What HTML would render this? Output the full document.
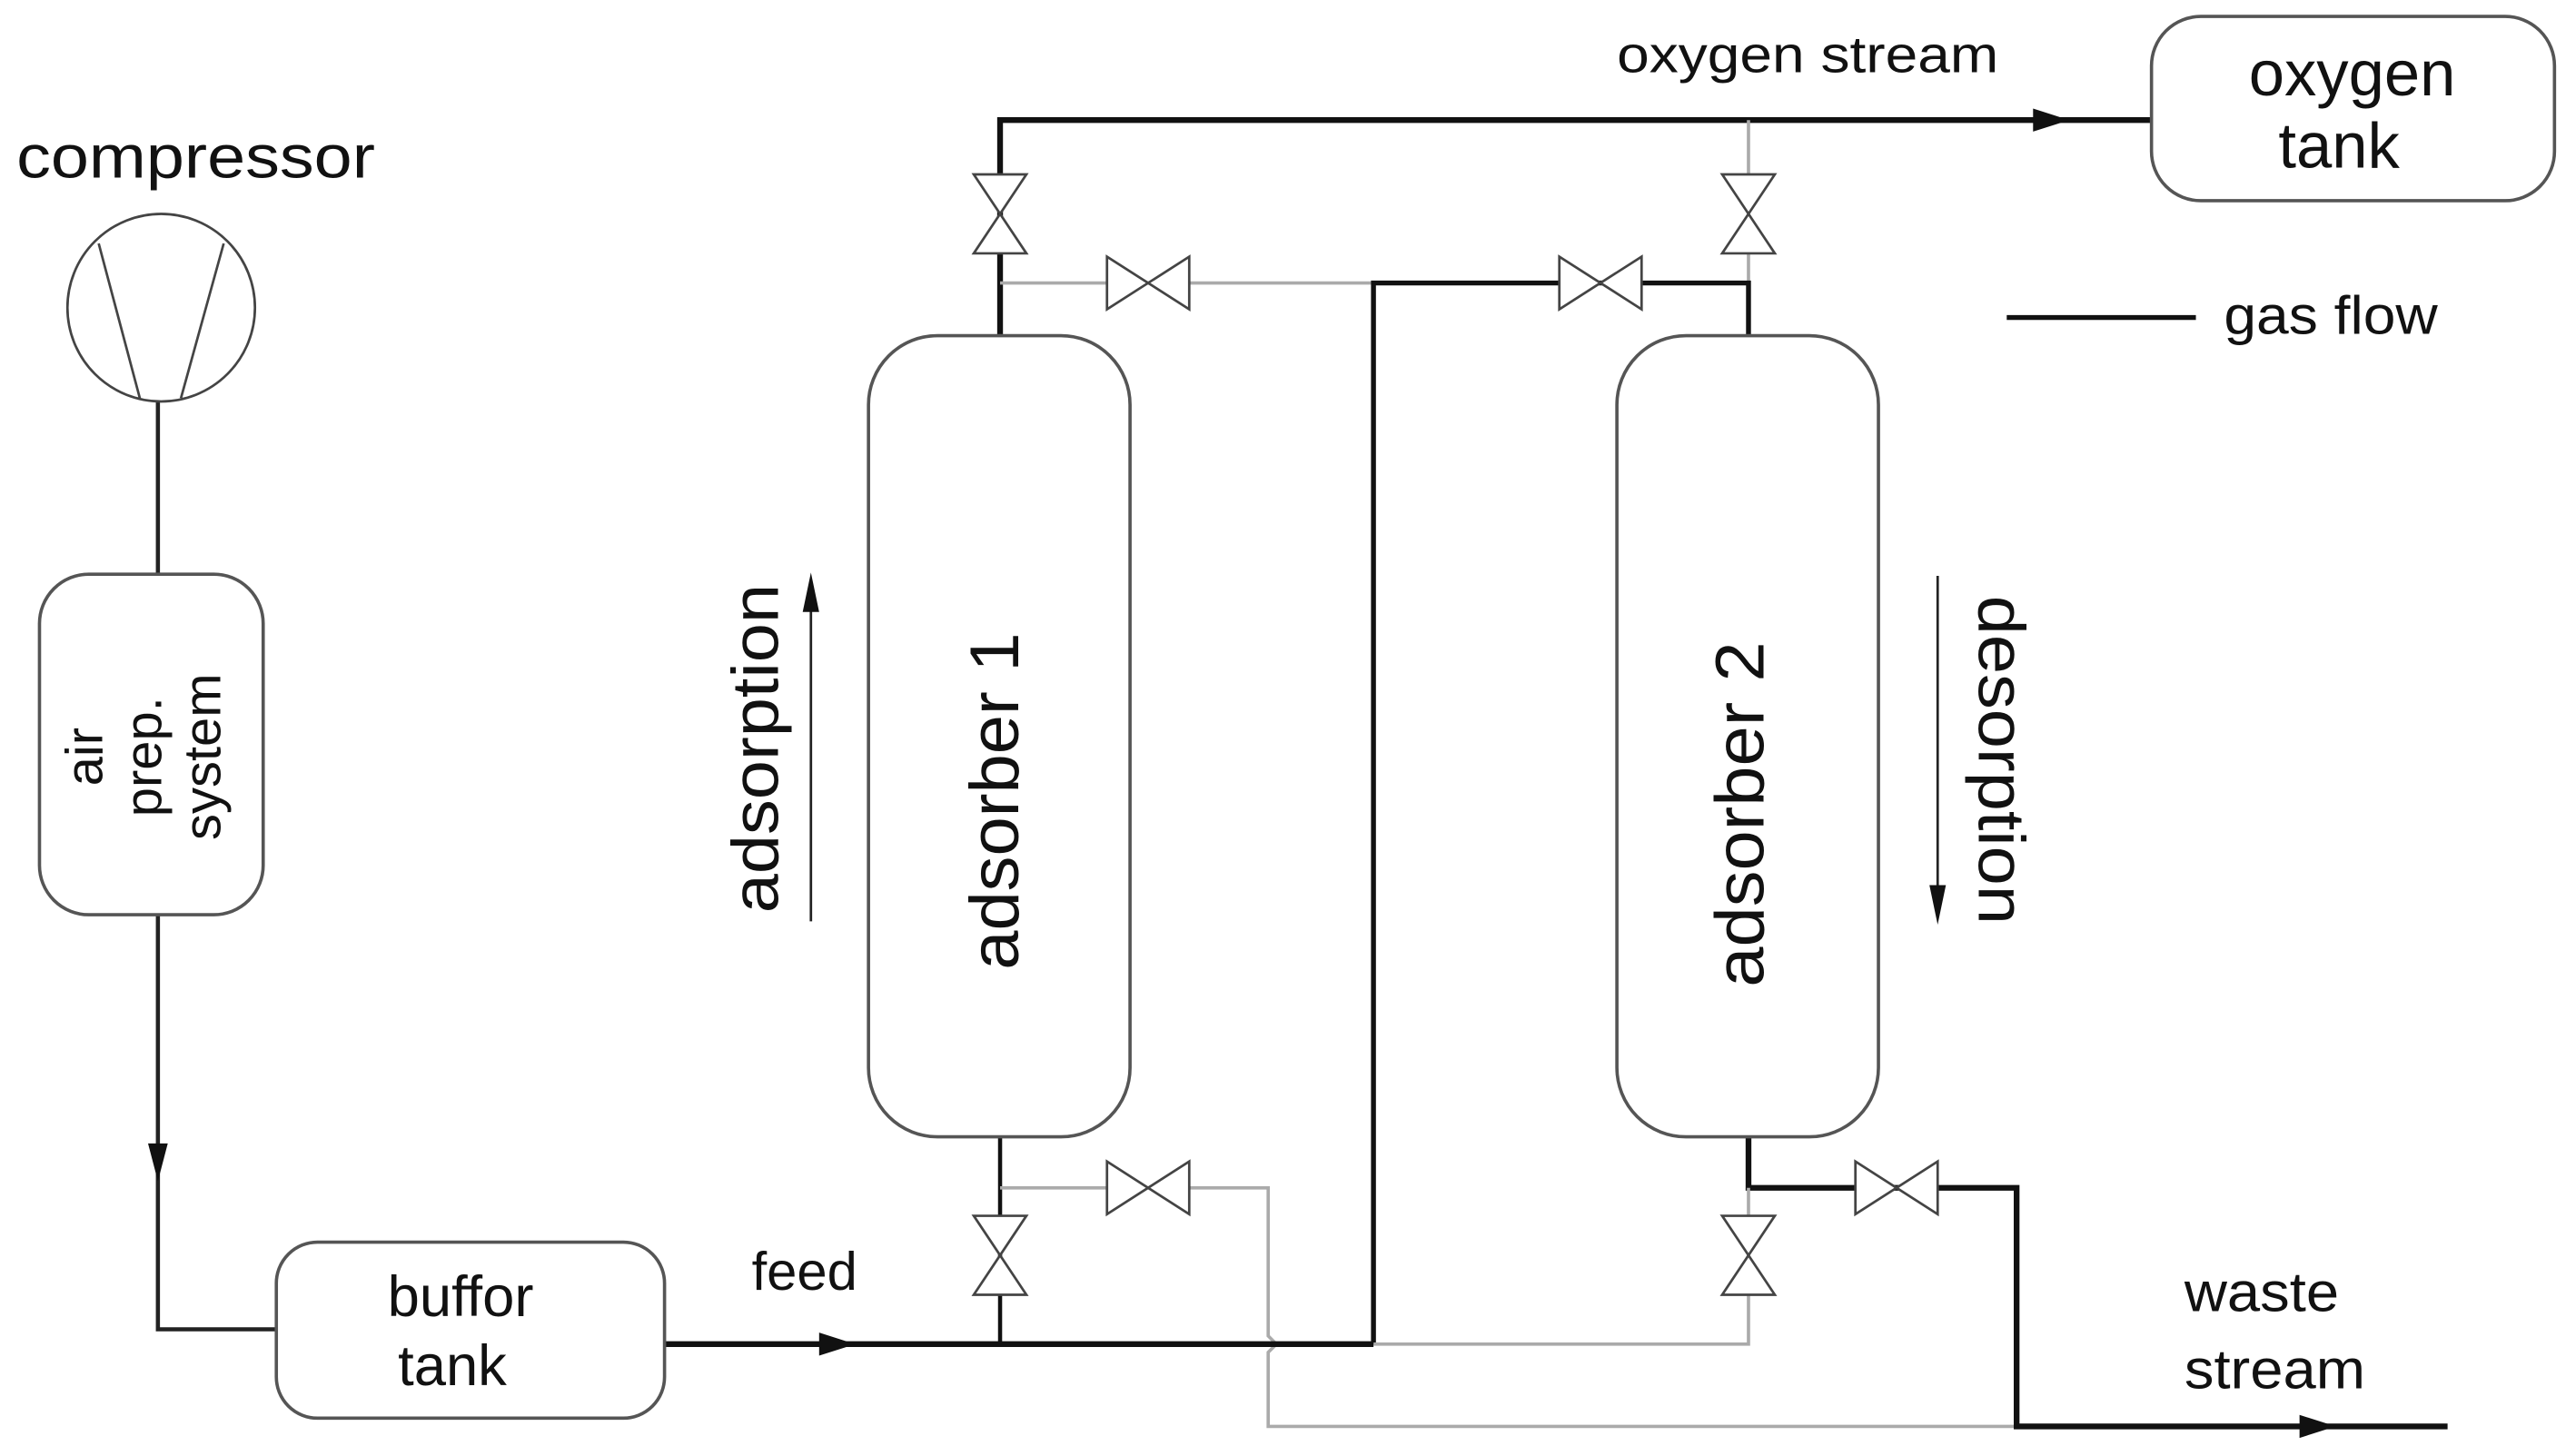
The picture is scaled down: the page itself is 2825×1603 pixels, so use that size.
<!DOCTYPE html>
<html><head><meta charset="utf-8"><style>
html,body{margin:0;padding:0;background:#fff;}
svg{display:block;}
text{font-family:"Liberation Sans",sans-serif;fill:#111;}
</style></head><body>
<svg width="2825" height="1603" viewBox="0 0 1560 885" preserveAspectRatio="none" xmlns="http://www.w3.org/2000/svg">
<defs>
<g id="hv"><polygon points="-25,-16 -25,16 25,-16 25,16" fill="#fff" stroke="#444" stroke-width="1.5"/></g>
<g id="vv"><polygon points="-16,-24 16,-24 -16,24 16,24" fill="#fff" stroke="#444" stroke-width="1.5"/></g>
</defs>
<g fill="none" stroke-linecap="butt">
<polyline points="608,205 608,73 1308,73" stroke="#111" stroke-width="3.5"/>
<polygon points="1236,66 1258,73 1236,80" fill="#111"/>
<line x1="608" y1="172" x2="835" y2="172" stroke="#aaa" stroke-width="2"/>
<line x1="1063" y1="73" x2="1063" y2="172" stroke="#aaa" stroke-width="2"/>
<polyline points="835,817 835,172 1063,172 1063,205" stroke="#111" stroke-width="3"/>
<line x1="608" y1="691" x2="608" y2="817" stroke="#111" stroke-width="2.5"/>
<polyline points="608,722 771,722 771,812 776,817 771,822 771,867 1226,867" stroke="#aaa" stroke-width="2"/>
<polyline points="1063,691 1063,722 1226,722 1226,867 1488,867" stroke="#111" stroke-width="3.5"/>
<polygon points="1398,860 1420,867 1398,874" fill="#111"/>
<polyline points="835,817 1063,817 1063,722" stroke="#aaa" stroke-width="2"/>
<line x1="404" y1="817" x2="835" y2="817" stroke="#111" stroke-width="3.5"/>
<polygon points="498,810 520,817 498,824" fill="#111"/>
<line x1="96" y1="244" x2="96" y2="350" stroke="#222" stroke-width="2.5"/>
<polyline points="96,556 96,808 168,808" stroke="#222" stroke-width="2.5"/>
<polygon points="90,695 96,718 102,695" fill="#111"/>
<line x1="1220" y1="193" x2="1335" y2="193" stroke="#111" stroke-width="3"/>
<line x1="493" y1="560" x2="493" y2="365" stroke="#222" stroke-width="1.5"/>
<polygon points="488,372 493,348 498,372" fill="#111"/>
<line x1="1178" y1="350" x2="1178" y2="545" stroke="#222" stroke-width="1.5"/>
<polygon points="1173,538 1178,562 1183,538" fill="#111"/>
</g>
<ellipse cx="98" cy="187" rx="57" ry="57" fill="#fff" stroke="#444" stroke-width="1.5"/>
<line x1="60" y1="148" x2="85" y2="242" stroke="#444" stroke-width="1.5"/>
<line x1="136" y1="148" x2="110" y2="242" stroke="#444" stroke-width="1.5"/>
<rect x="24" y="349" width="136" height="207" rx="30" fill="#fff" stroke="#555" stroke-width="2"/>
<rect x="168" y="755" width="236" height="107" rx="25" fill="#fff" stroke="#555" stroke-width="2"/>
<rect x="528" y="204" width="159" height="487" rx="42" fill="#fff" stroke="#555" stroke-width="2"/>
<rect x="983" y="204" width="159" height="487" rx="42" fill="#fff" stroke="#555" stroke-width="2"/>
<rect x="1308" y="10" width="245" height="112" rx="30" fill="#fff" stroke="#555" stroke-width="2"/>
<use href="#vv" x="608" y="130"/>
<use href="#vv" x="1063" y="130"/>
<use href="#hv" x="698" y="172"/>
<use href="#hv" x="973" y="172"/>
<use href="#hv" x="698" y="722"/>
<use href="#hv" x="1153" y="722"/>
<use href="#vv" x="608" y="763"/>
<use href="#vv" x="1063" y="763"/>
<text x="10" y="108" font-size="37" textLength="218" lengthAdjust="spacingAndGlyphs">compressor</text>
<text x="983" y="44" font-size="31" textLength="232" lengthAdjust="spacingAndGlyphs">oxygen stream</text>
<text x="1430" y="58" font-size="39" text-anchor="middle">oxygen</text>
<text x="1422" y="102" font-size="39" text-anchor="middle">tank</text>
<text x="1352" y="203" font-size="33" textLength="130" lengthAdjust="spacingAndGlyphs">gas flow</text>
<text x="280" y="800" font-size="35" text-anchor="middle">buffor</text>
<text x="275" y="842" font-size="35" text-anchor="middle">tank</text>
<text x="457" y="784" font-size="33">feed</text>
<text x="1328" y="797" font-size="34" textLength="94" lengthAdjust="spacingAndGlyphs">waste</text>
<text x="1328" y="844" font-size="34" textLength="110" lengthAdjust="spacingAndGlyphs">stream</text>
<g transform="translate(92,460) rotate(-90)">
<text x="0" y="-30" font-size="32" text-anchor="middle">air</text>
<text x="0" y="6" font-size="32" text-anchor="middle">prep.</text>
<text x="0" y="42" font-size="32" text-anchor="middle">system</text>
</g>
<text transform="translate(473,455) rotate(-90)" font-size="40" text-anchor="middle" textLength="200" lengthAdjust="spacingAndGlyphs">adsorption</text>
<text transform="translate(619,487) rotate(-90)" font-size="42" text-anchor="middle" textLength="205" lengthAdjust="spacingAndGlyphs">adsorber 1</text>
<text transform="translate(1072,495) rotate(-90)" font-size="42" text-anchor="middle" textLength="210" lengthAdjust="spacingAndGlyphs">adsorber 2</text>
<text transform="translate(1203,462) rotate(90)" font-size="40" text-anchor="middle" textLength="200" lengthAdjust="spacingAndGlyphs">desorption</text>
</svg>
</body></html>
